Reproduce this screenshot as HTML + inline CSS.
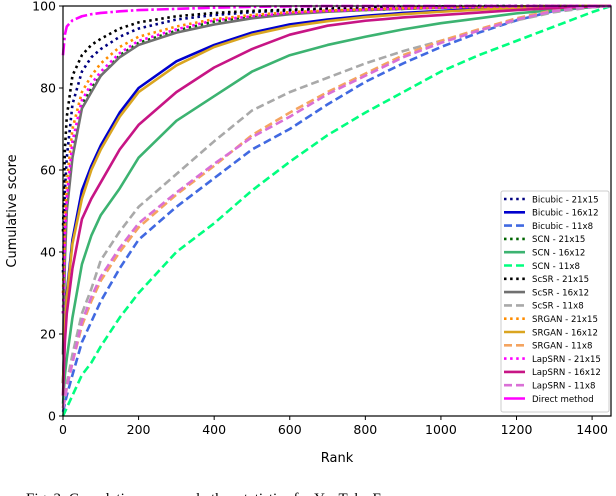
<!DOCTYPE html>
<html><head><meta charset="utf-8">
<style>
body{margin:0;background:#fff;width:616px;height:496px;overflow:hidden;font-family:"DejaVu Sans","Liberation Sans",sans-serif;}
svg{display:block}
</style></head>
<body>
<svg id="chart" width="616" height="496"></svg>
<script>
const ranks=[0,5,10,25,50,75,100,150,200,300,400,500,600,700,800,900,1000,1100,1200,1300,1400,1450];
const bic21=[35,55,63,76,84,87.5,89.5,92.5,94.5,96.7,97.8,98.5,98.9,99.2,99.5,99.7,99.8,99.9,100,100,100,100];
const bic16=[8,22,30,43,55,61,66,74,80,86.5,90.5,93.5,95.5,96.7,97.6,98.3,98.8,99.3,99.6,99.8,100,100];
const bic11=[1,3,5,10,18,23,28,36,43,51,58,65,70,76,81.5,86,90,93.5,96.5,98.8,99.8,100];
const scn21=[25,42,51,65,76,80,83,88,91,94,96.2,97.3,98.1,98.7,99,99.3,99.6,99.8,99.9,100,100,100];
const scn16=[3,10,14,24,37,44,49,55.5,63,72,78,84,88,90.5,92.5,94.3,95.8,97,98.2,99,99.7,100];
const scn11=[0,1,2,5,10,13,17,24,30,40,47,55,62,68.5,74,79,84,88,91.5,95,98.5,100];
const scsr21=[45,65,73,83,88,90.5,92,94.5,96,97.5,98.3,98.8,99.1,99.4,99.6,99.8,99.9,100,100,100,100,100];
const scsr16=[15,38,50,63,75,79,83,87.5,90.5,93.5,95.5,97,98,98.6,99,99.3,99.6,99.8,99.9,100,100,100];
const scsr11=[2,5,8,15,25,31,38,45,51,59,67,74.5,79,82.5,86,89,91.5,94,96.5,98.5,99.7,100];
const srgan21=[30,48,57,70,79,83,86,90,92.5,95,96.8,97.8,98.5,98.9,99.2,99.5,99.7,99.8,99.9,100,100,100];
const srgan16=[8,21,29,42,53,60,65,73,79,85.5,90,93,95,96.3,97.3,98,98.6,99.1,99.5,99.8,100,100];
const srgan11=[2,4,7,13,22,28,33,40,46,54,61,68.5,74,79,83.5,88,91.5,94.3,97,99,99.8,100];
const lap21=[25,44,53,67,77,81,84,88.5,91.5,94.3,96.5,97.5,98.3,98.8,99.1,99.4,99.6,99.8,99.9,100,100,100];
const lap16=[5,18,25,36,48,53,57,65,71,79,85,89.5,93,95.2,96.4,97.2,97.8,98.4,99,99.5,99.9,100];
const lap11=[2,4,7,13,23,29,34,41,47,54.5,61.5,68,73,78.5,83,87.5,91,94,96.7,98.8,99.8,100];
const direct=[88,93,95,96.5,97.5,98,98.3,98.7,99,99.3,99.6,99.8,99.9,100,100,100,100,100,100,100,100,100];
const xTicks=[0,200,400,600,800,1000,1200,1400];
const yTicks=[0,20,40,60,80,100];

const L=63,R=611,T=6,B=416,XMAX=1450;
const sx=r=>L+(r/XMAX)*(R-L);
const sy=v=>B-(v/100)*(B-T);
const NS="http://www.w3.org/2000/svg";
const svg=document.getElementById('chart');
function mk(tag,attrs,parent){const e=document.createElementNS(NS,tag);for(const k in attrs)e.setAttribute(k,attrs[k]);(parent||svg).appendChild(e);return e;}

const DOT="2.5 3.6",DASH="8 4",DASHDOT="12 3 2.5 3";
const series=[
 ["Bicubic - 21x15",bic21,"#000080",DOT,"bicubic-21x15"],
 ["Bicubic - 16x12",bic16,"#0000cd",null,"bicubic-16x12"],
 ["Bicubic - 11x8",bic11,"#4169e1",DASH,"bicubic-11x8"],
 ["SCN - 21x15",scn21,"#006400",DOT,"scn-21x15"],
 ["SCN - 16x12",scn16,"#3cb371",null,"scn-16x12"],
 ["SCN - 11x8",scn11,"#00ff7f",DASH,"scn-11x8"],
 ["ScSR - 21x15",scsr21,"#000000",DOT,"scsr-21x15"],
 ["ScSR - 16x12",scsr16,"#707070",null,"scsr-16x12"],
 ["ScSR - 11x8",scsr11,"#a9a9a9",DASH,"scsr-11x8"],
 ["SRGAN - 21x15",srgan21,"#ff8c00",DOT,"srgan-21x15"],
 ["SRGAN - 16x12",srgan16,"#daa520",null,"srgan-16x12"],
 ["SRGAN - 11x8",srgan11,"#f4a460",DASH,"srgan-11x8"],
 ["LapSRN - 21x15",lap21,"#ff00ff",DOT,"lapsrn-21x15"],
 ["LapSRN - 16x12",lap16,"#c71585",null,"lapsrn-16x12"],
 ["LapSRN - 11x8",lap11,"#da70d6",DASH,"lapsrn-11x8"],
 ["Direct method",direct,"#ff00ff",DASHDOT,"direct-method"]
];

const frame=mk('rect',{x:L,y:T,width:R-L,height:B-T,fill:'none',stroke:'#000','stroke-width':1.2});



series.forEach(s=>{
  const d=s[1].map((v,i)=>(i?'L':'M')+sx(ranks[i]).toFixed(2)+' '+sy(v).toFixed(2)).join(' ');
  const a={d:d,fill:'none',stroke:s[2],'stroke-width':2.6,'stroke-linejoin':'round'};
  if(s[3])a['stroke-dasharray']=s[3];
  const p=mk('path',a);
  
  
});
svg.appendChild(frame);

xTicks.forEach(t=>{
  const x=sx(t);
  const tk=mk('line',{x1:x,x2:x,y1:B,y2:B+4,stroke:'#000','stroke-width':1});
  
  
  const tx=mk('text',{x:x,y:B+18,'text-anchor':'middle','font-size':12.5,fill:'#000'});
  tx.textContent=t;
  
  
});
yTicks.forEach(t=>{
  const y=sy(t);
  const tk=mk('line',{x1:L-4,x2:L,y1:y,y2:y,stroke:'#000','stroke-width':1});
  
  
  const tx=mk('text',{x:L-7,y:y+4.5,'text-anchor':'end','font-size':12.5,fill:'#000'});
  tx.textContent=t;
  
  
});
const xt=mk('text',{x:(L+R)/2,y:462,'text-anchor':'middle','font-size':13,fill:'#000'});
xt.textContent='Rank';


const yt=mk('text',{x:0,y:0,'text-anchor':'middle','font-size':13,fill:'#000',transform:'translate(16,211) rotate(-90)'});
yt.textContent='Cumulative score';



const lg=mk('g',{});


mk('rect',{x:501,y:191,width:108,height:221,rx:2,fill:'#fff','fill-opacity':0.85,stroke:'#ccc','stroke-width':1},lg);
series.forEach((s,i)=>{
  const y=199+i*13.3;
  const g=mk('g',{},lg);
  
  
  const a={x1:504,x2:525,y1:y,y2:y,stroke:s[2],'stroke-width':2.6};
  if(s[3])a['stroke-dasharray']=s[3]==DASH?"8 4":s[3]==DASHDOT?"21 0":"2.5 3.6";
  mk('line',a,g);
  const t=mk('text',{x:532,y:y+3.3,'font-size':8.6,fill:'#000'},g);
  t.textContent=s[0];
});

const cap=mk('text',{x:26,y:503,'font-size':15,fill:'#000','font-family':'Liberation Serif, serif'});
cap.textContent='Fig. 3:   Cumulative score and other statistics for YouTube Faces';


</script>
</body></html>
